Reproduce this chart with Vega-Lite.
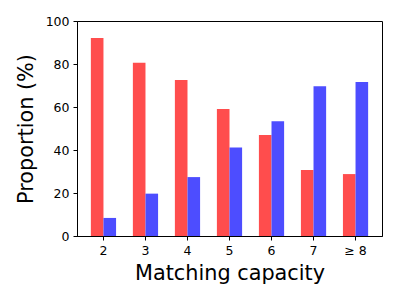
{
  "$schema": "https://vega.github.io/schema/vega-lite/v6.json",
  "autosize": {"type": "none"},
  "width": 305,
  "height": 215,
  "padding": {"left": 77, "top": 21, "right": 18, "bottom": 64},
  "background": "white",
  "config": {
    "font": "DejaVu Sans",
    "view": {"stroke": "black", "strokeWidth": 1},
    "axis": {
      "domainColor": "black",
      "tickColor": "black",
      "labelColor": "black",
      "titleColor": "black",
      "labelFont": "DejaVu Sans",
      "titleFont": "DejaVu Sans",
      "labelFontSize": 12.5,
      "titleFontSize": 20.8,
      "titleFontWeight": "normal",
      "tickSize": 4,
      "labelPadding": 4,
      "grid": false
    }
  },
  "data": {
    "values": [
      {"capacity": "2", "group": "a", "value": 92.1},
      {"capacity": "2", "group": "b", "value": 8.4},
      {"capacity": "3", "group": "a", "value": 80.6},
      {"capacity": "3", "group": "b", "value": 19.7},
      {"capacity": "4", "group": "a", "value": 72.6},
      {"capacity": "4", "group": "b", "value": 27.4},
      {"capacity": "5", "group": "a", "value": 59.1},
      {"capacity": "5", "group": "b", "value": 41.2},
      {"capacity": "6", "group": "a", "value": 47.0},
      {"capacity": "6", "group": "b", "value": 53.4},
      {"capacity": "7", "group": "a", "value": 30.7},
      {"capacity": "7", "group": "b", "value": 69.6},
      {"capacity": "≥ 8", "group": "a", "value": 28.8},
      {"capacity": "≥ 8", "group": "b", "value": 71.6}
    ]
  },
  "mark": {"type": "bar"},
  "encoding": {
    "x": {
      "field": "capacity",
      "type": "nominal",
      "sort": ["2", "3", "4", "5", "6", "7", "≥ 8"],
      "scale": {"paddingInner": 0.4, "paddingOuter": 0.33},
      "axis": {"title": "Matching capacity", "labelAngle": 0, "titlePadding": 7}
    },
    "xOffset": {
      "field": "group",
      "type": "nominal",
      "scale": {"paddingInner": 0, "paddingOuter": 0}
    },
    "y": {
      "field": "value",
      "type": "quantitative",
      "scale": {"domain": [0, 100], "nice": false},
      "axis": {"title": "Proportion (%)", "values": [0, 20, 40, 60, 80, 100], "titlePadding": 9}
    },
    "color": {
      "field": "group",
      "type": "nominal",
      "scale": {"domain": ["a", "b"], "range": ["#ff4d4d", "#4d4dff"]},
      "legend": null
    }
  }
}
